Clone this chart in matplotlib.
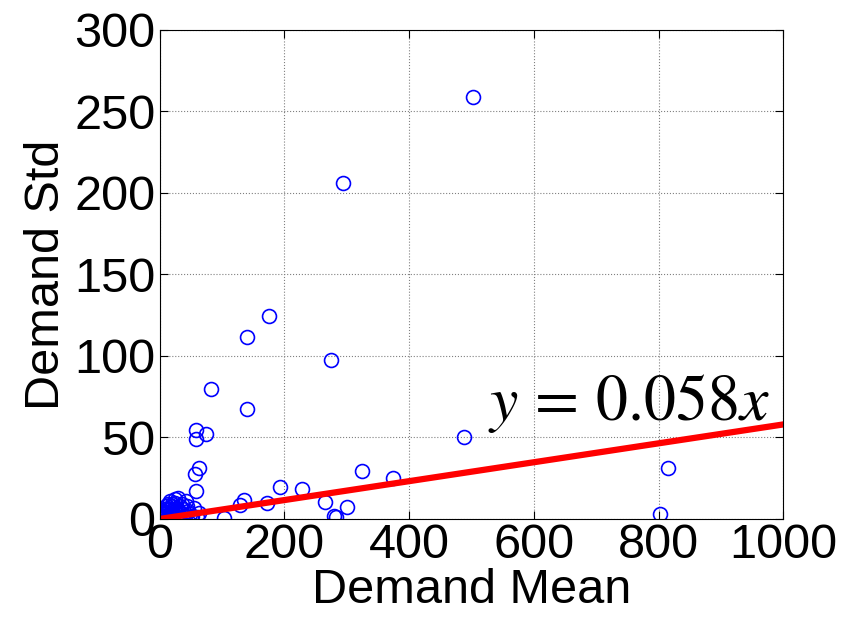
import numpy as np
import matplotlib
matplotlib.use("Agg")
import matplotlib.pyplot as plt

# demand mean / std per item
mean_vals = [502, 294, 175, 140, 274, 83, 140, 75, 58, 59, 63, 56, 58,
             488, 815, 803, 324, 374, 193, 228, 172, 135, 128, 265, 300,
             279, 282, 103, 63, 29,
             2, 3, 5, 4, 6, 8, 10, 12, 15, 18, 20, 22, 25, 28, 33, 35, 38,
             40, 42, 45, 48, 50, 55, 7, 10, 14, 17, 20, 24, 27, 32, 37, 1,
             3, 9, 13, 16, 19, 26, 44, 52, 60, 11, 23]
std_vals = [259, 206, 124.5, 111.7, 97.5, 80, 67.5, 52, 54.6, 49, 31, 27.6, 17,
            50, 31, 3, 29.4, 25, 19.6, 18.4, 10, 11.7, 8.6, 10.4, 7.4,
            2, 1.5, 0.6, 3.7, 13,
            0.5, 1, 2, 0.3, 3, 1.5, 4, 2.5, 6, 5, 8, 3, 10, 7, 4, 9, 6,
            2, 11, 5, 3, 1, 7, 5, 8, 9, 11, 2, 12, 1, 8, 3, 2,
            4, 6, 0.8, 3, 9, 5, 8, 2, 1, 0.5, 6]
slope = 0.058
fit_x = [0, 1000]

plt.rcParams['font.family'] = ['Liberation Sans', 'DejaVu Sans']
plt.rcParams['mathtext.fontset'] = 'stix'

fig = plt.figure(figsize=(8.45, 6.19), dpi=100)
ax = fig.add_axes([0.189, 0.1616, 0.738, 0.79])

ax.plot(mean_vals, std_vals, 'o', mfc='none', mec='blue', ms=10, mew=1.2)
ax.plot(fit_x, [slope * v for v in fit_x], color='red', lw=4.5)
ax.text(978, 61, r'$y\,=\,0.058x$', fontsize=46, ha='right', va='baseline')

ax.set_xlim(0, 1000)
ax.set_ylim(0, 300)
ax.set_xticks(np.arange(0, 1001, 200))
ax.set_yticks(np.arange(0, 301, 50))
ax.grid(True, linestyle=':', color='gray', lw=0.8)
ax.tick_params(direction='in', top=True, right=True, labelsize=35, length=6, pad=3)
ax.set_xlabel('Demand Mean', fontsize=35, labelpad=0)
ax.set_ylabel('Demand Std', fontsize=35, labelpad=4)

fig.savefig('out.png', dpi=100)
